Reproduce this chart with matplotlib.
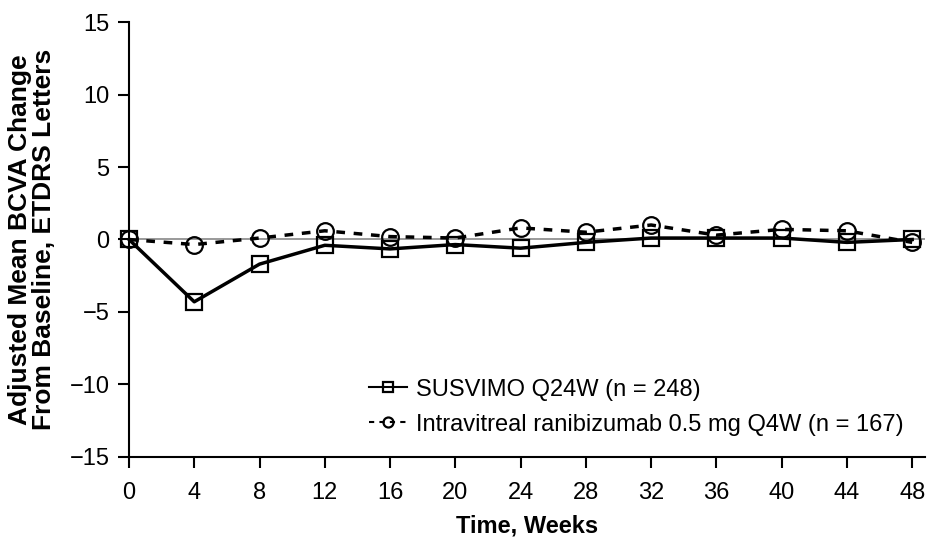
import matplotlib
matplotlib.use("Agg")
import matplotlib.pyplot as plt

plt.rcParams['font.family'] = ['Liberation Sans', 'DejaVu Sans']

weeks = [0, 4, 8, 12, 16, 20, 24, 28, 32, 36, 40, 44, 48]
susvimo = [0.0, -4.3, -1.7, -0.4, -0.65, -0.35, -0.6, -0.2, 0.1, 0.1, 0.1, -0.2, 0.0]
ranibizumab = [0.0, -0.35, 0.1, 0.6, 0.2, 0.1, 0.8, 0.5, 1.0, 0.3, 0.7, 0.6, -0.2]

fig = plt.figure(figsize=(9.28, 5.4), dpi=100)
ax = fig.add_axes([0.139, 0.154, 0.858, 0.805])

ax.axhline(0, color='#888888', lw=1.2, zorder=1)
ax.plot(weeks, susvimo, color='black', lw=2.5, marker='s', ms=12, mfc='none',
        mew=1.6, label='SUSVIMO Q24W (n = 248)', zorder=3, clip_on=False)
ax.plot(weeks, ranibizumab, color='black', lw=2.5, ls=(0, (2.5, 2.5)), marker='o',
        ms=12, mfc='none', mew=1.6, clip_on=False,
        label='Intravitreal ranibizumab 0.5 mg Q4W (n = 167)', zorder=2)

ax.set_xlim(0, 48.8)
ax.set_ylim(-15, 15)
ax.set_xticks(weeks)
ax.set_yticks([-15, -10, -5, 0, 5, 10, 15])
ax.set_yticklabels(['\u221215', '\u221210', '\u22125', '0', '5', '10', '15'])
ax.spines['top'].set_visible(False)
ax.spines['right'].set_visible(False)
ax.spines['left'].set_linewidth(1.5)
ax.spines['bottom'].set_linewidth(1.5)
ax.tick_params(axis='both', labelsize=17, width=1.5, length=8, direction='out')
ax.tick_params(axis='x', pad=10)
ax.tick_params(axis='y', pad=6)

ax.set_xlabel('Time, Weeks', fontsize=17, fontweight='bold', labelpad=8)
ax.set_ylabel('Adjusted Mean BCVA Change\nFrom Baseline, ETDRS Letters',
              fontsize=19, fontweight='bold', labelpad=10, linespacing=1.0)

leg = ax.legend(loc='lower right', bbox_to_anchor=(1.0, 0.0), fontsize=17,
                frameon=False, handlelength=1.6, handletextpad=0.4,
                labelspacing=0.55, markerscale=0.6)
for h in leg.legend_handles:
    h.set_linewidth(1.5)

fig.savefig('out.png', dpi=100)
